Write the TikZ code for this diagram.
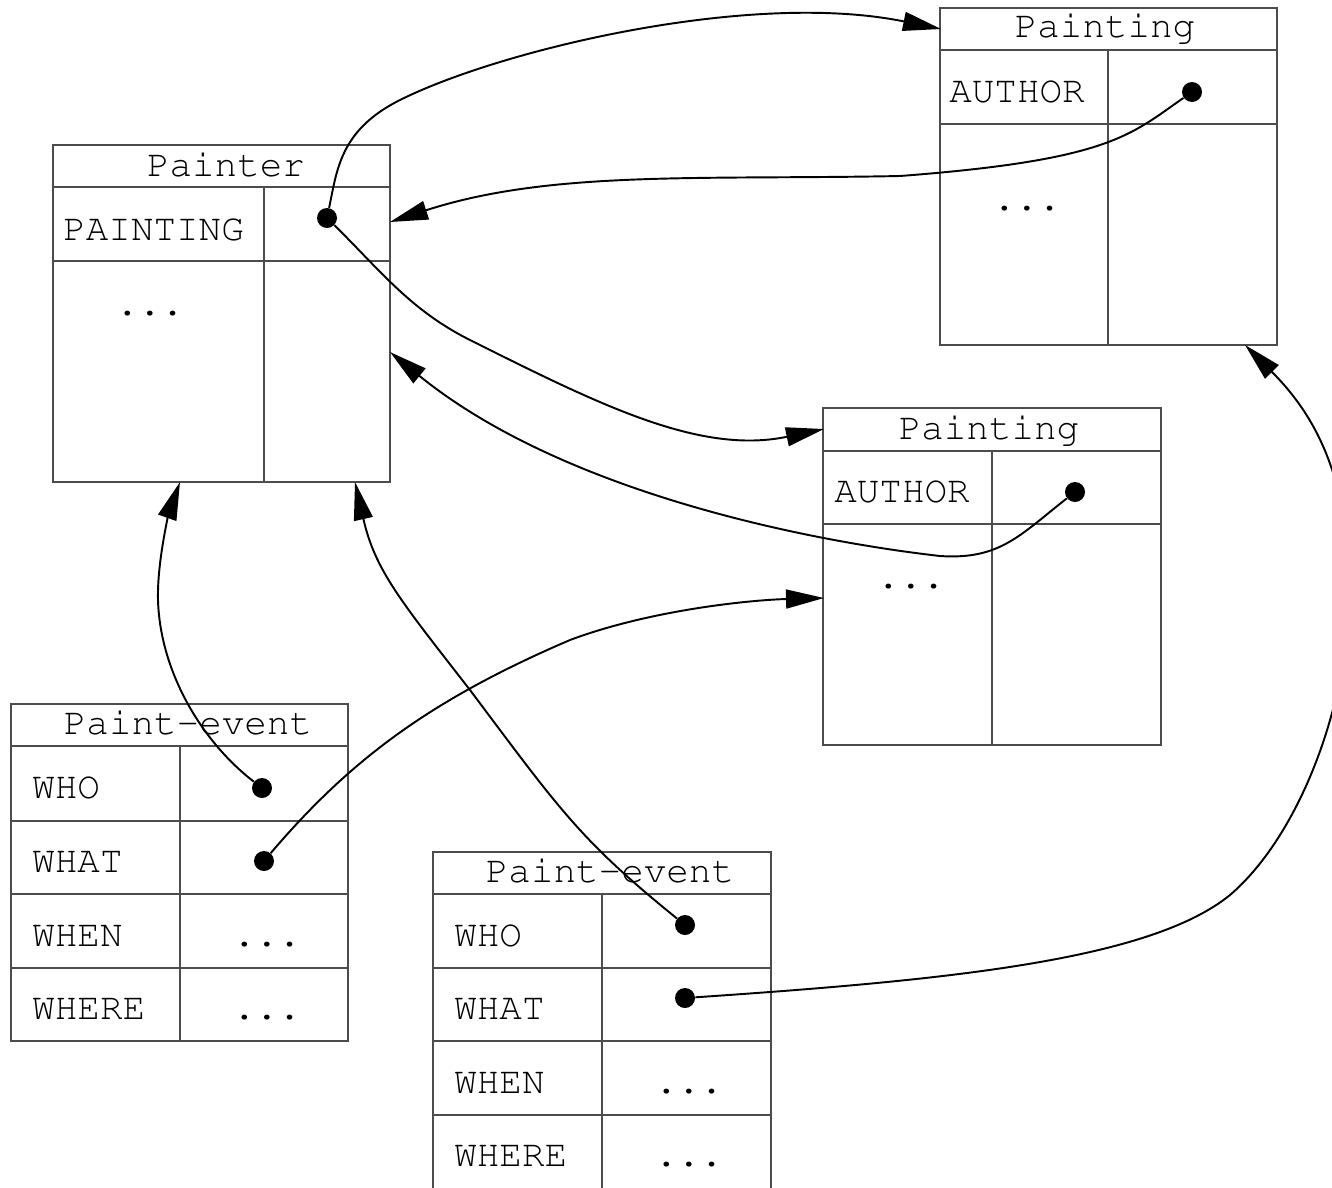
\documentclass[tikz,border=0pt]{standalone}
\usepackage[T1]{fontenc}
\usepackage{courier}
\usetikzlibrary{arrows.meta}

\tikzset{
  cell/.style={draw=black!70, line width=0.8pt},
  ttl/.style={anchor=base, inner sep=0pt, font=\ttfamily\fontsize{21.4}{24}\selectfont},
  lbl/.style={ttl, anchor=base west},
  dot/.style={circle, fill=black, inner sep=0pt, minimum size=0.4cm},
  link/.style={line width=1.1pt, -{Triangle[length=0.76cm,width=0.38cm]}}
}

\begin{document}
\begin{tikzpicture}[x=0.02cm, y=-0.02cm]
    \useasboundingbox (0,0) rectangle (1332,1187);

    % Painter
    \draw[cell] (53,145) rectangle (390,482);
    \draw[cell] (53,187) -- (390,187) (53,261) -- (390,261) (264,187) -- (264,482);
    \node[ttl] (pntr-t) at (226,176) {Painter};
    \node[lbl] (pntr-k) at (63,240) {PAINTING};
    \node[ttl] (pntr-x) at (150,315) {...};

    % Painting, top
    \draw[cell] (940,8) rectangle (1277,345);
    \draw[cell] (940,50) -- (1277,50) (940,124) -- (1277,124) (1108,50) -- (1108,345);
    \node[ttl] (pa-t) at (1105,37) {Painting};
    \node[lbl] (pa-k) at (949,102) {AUTHOR};
    \node[ttl] (pa-x) at (1027,210) {...};

    % Painting, middle
    \draw[cell] (823,408) rectangle (1161,745);
    \draw[cell] (823,451) -- (1161,451) (823,524) -- (1161,524) (992,451) -- (992,745);
    \node[ttl] (pb-t) at (989,439) {Painting};
    \node[lbl] (pb-k) at (834,502) {AUTHOR};
    \node[ttl] (pb-x) at (911,588) {...};

    % Paint-event, left
    \draw[cell] (11,704) rectangle (348,1041);
    \foreach \y in {746,821,894,968}
        \draw[cell] (11,\y) -- (348,\y);
    \draw[cell] (180,746) -- (180,1041);
    \node[ttl] (pel-t) at (188,734) {Paint-event};
    \node[lbl] (pel-k1) at (32,798) {WHO};
    \node[lbl] (pel-k2) at (32,872) {WHAT};
    \node[lbl] (pel-k3) at (32,946) {WHEN};
    \node[lbl] (pel-k4) at (32,1019) {WHERE};
    \node[ttl] (pel-x3) at (267,946) {...};
    \node[ttl] (pel-x4) at (267,1019) {...};

    % Paint-event, bottom
    \draw[cell] (433,852) rectangle (771,1189);
    \foreach \y in {894,968,1041,1115}
        \draw[cell] (433,\y) -- (771,\y);
    \draw[cell] (602,894) -- (602,1189);
    \node[ttl] (peb-t) at (610,882) {Paint-event};
    \node[lbl] (peb-k1) at (454,946) {WHO};
    \node[lbl] (peb-k2) at (454,1019) {WHAT};
    \node[lbl] (peb-k3) at (454,1093) {WHEN};
    \node[lbl] (peb-k4) at (454,1166) {WHERE};
    \node[ttl] (peb-x3) at (689,1093) {...};
    \node[ttl] (peb-x4) at (689,1166) {...};

    % pointers
    \node[dot] (pntr-d) at (327,218) {};
    \node[dot] (pa-d) at (1192,92) {};
    \node[dot] (pb-d) at (1075,492) {};
    \node[dot] (pel-who) at (262,788) {};
    \node[dot] (pel-what) at (264,861) {};
    \node[dot] (peb-who) at (685,925) {};
    \node[dot] (peb-what) at (685,998) {};

    \coordinate (pa-in) at (941,29);
    \coordinate (pa-in2) at (1245,345);
    \coordinate (pb-in) at (824,429);
    \coordinate (pb-in2) at (824,598);
    \coordinate (pntr-in1) at (390,222);
    \coordinate (pntr-in2) at (390,352);
    \coordinate (pntr-in3) at (180,482);
    \coordinate (pntr-in4) at (355,482);

    \draw[link] (pntr-d) .. controls (337,170) and (340,130) .. (400,100)
        .. controls (500,50) and (750,-10) .. (pa-in);
    \draw[link] (pntr-d) .. controls (380,270) and (410,310) .. (470,340)
        .. controls (600,405) and (700,455) .. (pb-in);
    \draw[link] (pa-d) .. controls (1130,135) and (1110,160) .. (900,176)
        .. controls (700,180) and (550,170) .. (pntr-in1);
    \draw[link] (pb-d) .. controls (1020,535) and (1000,560) .. (940,556)
        .. controls (800,540) and (560,490) .. (pntr-in2);
    \draw[link] (pel-who) .. controls (200,740) and (160,670) .. (158,600)
        .. controls (157,560) and (170,510) .. (pntr-in3);
    \draw[link] (pel-what) .. controls (350,760) and (430,700) .. (570,640)
        .. controls (650,610) and (750,600) .. (pb-in2);
    \draw[link] (peb-who) .. controls (580,840) and (560,810) .. (470,690)
        .. controls (400,600) and (375,570) .. (pntr-in4);
    \draw[link] (peb-what) .. controls (950,980) and (1150,960) .. (1230,895)
        .. controls (1300,835) and (1352,700) .. (1350,575)
        .. controls (1345,480) and (1320,420) .. (pa-in2);
\end{tikzpicture}
\end{document}
